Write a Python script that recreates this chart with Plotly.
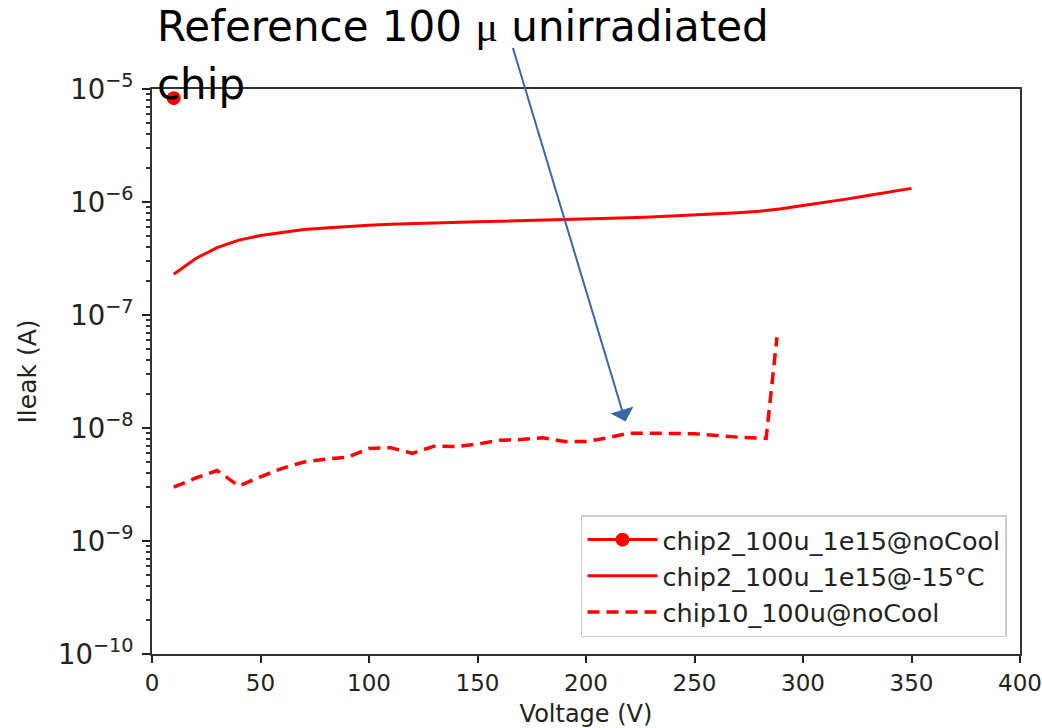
import plotly.graph_objects as go
import math

# --- data ---
v_nocool = [10]
i_nocool = [8.3e-6]

v_cold = [10, 20, 30, 40, 50, 60, 70, 80, 90, 100, 110, 120, 130, 140, 150, 160, 170, 180,
          190, 200, 210, 220, 230, 240, 250, 260, 270, 280, 290, 300, 310, 320, 330, 340, 350]
i_cold = [2.29e-7, 3.15e-7, 3.95e-7, 4.6e-7, 5.05e-7, 5.4e-7, 5.7e-7, 5.9e-7, 6.1e-7, 6.22e-7,
          6.35e-7, 6.45e-7, 6.55e-7, 6.62e-7, 6.68e-7, 6.75e-7, 6.82e-7, 6.9e-7, 6.98e-7, 7.05e-7,
          7.15e-7, 7.25e-7, 7.38e-7, 7.52e-7, 7.68e-7, 7.85e-7, 8.05e-7, 8.3e-7, 8.7e-7, 9.3e-7,
          9.9e-7, 1.06e-6, 1.14e-6, 1.23e-6, 1.32e-6]

v_ref = [10, 20, 30, 40, 50, 60, 70, 80, 90, 100, 110, 120, 130, 140, 150, 160, 170, 180,
         190, 200, 210, 220, 230, 240, 250, 260, 270, 283, 288]
i_ref = [3.0e-9, 3.6e-9, 4.2e-9, 3.07e-9, 3.7e-9, 4.4e-9, 5.0e-9, 5.3e-9, 5.5e-9, 6.6e-9,
         6.7e-9, 5.97e-9, 6.9e-9, 6.85e-9, 7.2e-9, 7.8e-9, 7.9e-9, 8.2e-9, 7.6e-9, 7.6e-9,
         8.2e-9, 9.0e-9, 9.0e-9, 9.0e-9, 8.9e-9, 8.6e-9, 8.3e-9, 8.1e-9, 6.35e-8]

names = ["chip2_100u_1e15@noCool", "chip2_100u_1e15@-15°C", "chip10_100u@noCool"]
x_ticks = [0, 50, 100, 150, 200, 250, 300, 350, 400]
y_decades = [-10, -9, -8, -7, -6]
y_minor_ticks = [math.log10(k) + e for e in y_decades for k in range(2, 10)]

RED = "#ff0000"
FONT = "DejaVu Sans"

fig = go.Figure()
fig.add_trace(go.Scatter(x=v_nocool, y=i_nocool, name=names[0], mode="lines+markers",
                         line=dict(color=RED, width=3), marker=dict(size=14, color=RED)))
fig.add_trace(go.Scatter(x=v_cold, y=i_cold, name=names[1], mode="lines",
                         line=dict(color=RED, width=3)))
fig.add_trace(go.Scatter(x=v_ref, y=i_ref, name=names[2], mode="lines",
                         line=dict(color=RED, width=3.5, dash="12px,7px")))
# helper trace on an overlay axis (log10 units) that carries the minor ticks
fig.add_trace(go.Scatter(x=v_nocool, y=[math.log10(v) for v in i_nocool], xaxis="x", yaxis="y2",
                         mode="markers", marker=dict(opacity=0), showlegend=False,
                         hoverinfo="skip"))

PT, PB = 89, 654
def py(pix):
    return (PB - pix) / (PB - PT)

fig.update_layout(
    width=1042, height=728,
    margin=dict(l=152, r=22, t=89, b=74),
    paper_bgcolor="white", plot_bgcolor="white",
    font=dict(family=FONT, size=22, color="#222"),
    showlegend=True,
    legend=dict(x=0.985, y=0.03, xanchor="right", yanchor="bottom",
                bgcolor="rgba(255,255,255,0.9)", bordercolor="#cccccc", borderwidth=1.5,
                font=dict(family=FONT, size=25.5, color="#222"), itemwidth=70,
                tracegroupgap=0),
    xaxis=dict(range=[0, 400], tickvals=x_ticks, ticks="outside", ticklen=7, tickwidth=1.5,
               tickcolor="#222", showline=True, mirror=True, linecolor="#333", linewidth=2,
               showgrid=False, zeroline=False, tickfont=dict(size=23), automargin=False,
               title=dict(text="Voltage (V)", font=dict(size=24), standoff=13)),
    yaxis=dict(type="log", range=[-10, -5], dtick=1, exponentformat="power",
               ticks="outside", ticklen=8, tickwidth=2, tickcolor="#222",
               showline=True, mirror=True, linecolor="#333", linewidth=2,
               showgrid=False, zeroline=False, tickfont=dict(size=22), automargin=False,
               ticklabelstandoff=4,
               title=dict(text="Ileak (A)", font=dict(size=25), standoff=14)),
    yaxis2=dict(type="linear", range=[-10, -5], overlaying="y", anchor="x", side="left",
                tickmode="array", tickvals=y_minor_ticks, ticks="outside", ticklen=5,
                tickwidth=1.5, tickcolor="#333", showticklabels=False, showline=False,
                showgrid=False, zeroline=False, automargin=False, visible=True),
)

# annotation arrow (blue)
fig.add_annotation(x=218.2, y=math.log10(1.14e-8), xref="x", yref="y", text="",
                   showarrow=True, ax=-113, ay=-375, axref="pixel", ayref="pixel",
                   arrowcolor="#3a66a8", arrowwidth=2, arrowhead=1, arrowsize=2.0, standoff=0)

fig.add_annotation(x=0.0035, y=py(0), xref="paper", yref="paper", xanchor="left", yanchor="top",
                   text="Reference 100 <span style='font-family:Liberation Serif'>μ</span> unirradiated",
                   showarrow=False, font=dict(family=FONT, size=42, color="black"))
fig.add_annotation(x=0.0035, y=py(58), xref="paper", yref="paper", xanchor="left", yanchor="top",
                   text="chip", showarrow=False,
                   font=dict(family=FONT, size=42, color="black"))

fig.write_html("out.html")
